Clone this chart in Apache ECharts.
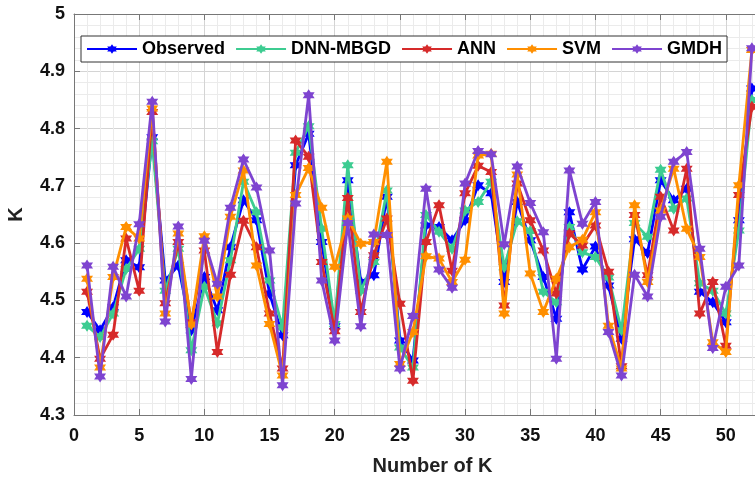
<!DOCTYPE html>
<html>
<head>
<meta charset="utf-8">
<script src="https://cdn.jsdelivr.net/npm/echarts@6/dist/echarts.min.js"></script>
<style>
html,body{margin:0;padding:0;background:#fff;overflow:hidden;}
#chart{width:755px;height:478px;}
</style>
</head>
<body>
<div id="chart"></div>
<script>
var kValues = [1,2,3,4,5,6,7,8,9,10,11,12,13,14,15,16,17,18,19,20,21,22,23,24,25,26,27,28,29,30,31,32,33,34,35,36,37,38,39,40,41,42,43,44,45,46,47,48,49,50,51,52];
var observed = [4.480,4.448,4.488,4.570,4.558,4.785,4.535,4.561,4.448,4.541,4.483,4.593,4.675,4.640,4.512,4.439,4.736,4.791,4.602,4.455,4.710,4.532,4.544,4.681,4.430,4.395,4.631,4.628,4.605,4.640,4.701,4.687,4.532,4.672,4.605,4.541,4.468,4.654,4.554,4.594,4.526,4.433,4.607,4.583,4.710,4.675,4.695,4.515,4.497,4.462,4.640,4.870];
var dnnMbgd = [4.456,4.436,4.477,4.555,4.590,4.778,4.517,4.590,4.413,4.524,4.460,4.570,4.707,4.654,4.535,4.453,4.758,4.804,4.625,4.459,4.736,4.517,4.567,4.692,4.418,4.383,4.649,4.620,4.590,4.657,4.672,4.707,4.558,4.638,4.621,4.515,4.497,4.628,4.584,4.576,4.540,4.448,4.635,4.611,4.728,4.660,4.678,4.530,4.517,4.477,4.622,4.850];
var ann = [4.515,4.398,4.440,4.608,4.517,4.829,4.495,4.602,4.462,4.587,4.410,4.545,4.639,4.593,4.477,4.381,4.779,4.751,4.567,4.446,4.679,4.480,4.579,4.643,4.494,4.360,4.602,4.666,4.552,4.687,4.735,4.724,4.491,4.704,4.640,4.587,4.512,4.617,4.596,4.631,4.550,4.385,4.649,4.544,4.681,4.622,4.730,4.477,4.532,4.421,4.684,4.838];
var svm = [4.538,4.383,4.541,4.628,4.608,4.835,4.477,4.617,4.458,4.612,4.507,4.646,4.727,4.561,4.459,4.369,4.684,4.731,4.662,4.559,4.643,4.599,4.602,4.742,4.389,4.445,4.577,4.573,4.532,4.571,4.753,4.756,4.477,4.720,4.547,4.480,4.538,4.593,4.606,4.654,4.456,4.381,4.666,4.532,4.657,4.730,4.625,4.576,4.427,4.410,4.701,4.937];
var gmdh = [4.561,4.367,4.559,4.507,4.633,4.847,4.463,4.629,4.363,4.604,4.529,4.662,4.746,4.697,4.587,4.352,4.669,4.858,4.535,4.430,4.635,4.455,4.615,4.614,4.381,4.473,4.695,4.554,4.522,4.704,4.761,4.755,4.598,4.734,4.670,4.619,4.398,4.727,4.634,4.672,4.445,4.369,4.545,4.507,4.646,4.742,4.759,4.590,4.417,4.524,4.561,4.940];
var seriesNames = ['Observed','DNN-MBGD','ANN','SVM','GMDH'];
var seriesColors = ['#0000FF','#3DCC91','#D62A2A','#FF8F00','#7E44D0'];
var yTicks = [4.3,4.4,4.5,4.6,4.7,4.8,4.9,5];

var hexagram = 'path://M0,-1000 L289,-500 L866,-500 L577,0 L866,500 L289,500 L0,1000 L-289,500 L-866,500 L-577,0 L-866,-500 L-289,-500 Z';
var FONT = 'Liberation Sans, Arial, sans-serif';
var allData = [observed, dnnMbgd, ann, svm, gmdh];

function pairs(arr){ return arr.map(function(v,i){ return [kValues[i], v]; }); }

var series = allData.map(function(arr, i){
  return {
    name: seriesNames[i],
    type: 'line',
    data: pairs(arr),
    symbol: hexagram,
    symbolSize: 12,
    showSymbol: true,
    clip: false,
    lineStyle: {width: 2.8, color: seriesColors[i]},
    itemStyle: {color: seriesColors[i], borderWidth: 0},
    z: 2 + i
  };
});

var chart = echarts.init(document.getElementById('chart'), null, {renderer: 'canvas'});
chart.setOption({
  animation: false,
  backgroundColor: '#fff',
  grid: {left: 74, top: 14, bottom: 63, width: 717, containLabel: false, outerBoundsMode: 'none'},
  legend: {
    left: 81, top: 36,
    orient: 'horizontal',
    itemWidth: 50, itemHeight: 12, itemGap: 10,
    padding: [4, 5, 4, 5],
    borderColor: '#333', borderWidth: 1,
    backgroundColor: '#fff',
    textStyle: {fontFamily: FONT, fontWeight: 'bold', fontSize: 18, color: '#000'},
    data: seriesNames
  },
  xAxis: [{
    type: 'value', min: 0, max: 55, interval: 5,
    name: 'Number of K', nameLocation: 'middle', nameGap: 41,
    nameTextStyle: {fontFamily: FONT, fontWeight: 'bold', fontSize: 20, color: '#222'},
    axisLine: {show: true, lineStyle: {color: '#777', width: 1}},
    axisTick: {show: true, inside: true, length: 6, lineStyle: {color: '#777'}},
    axisLabel: {fontFamily: FONT, fontWeight: 'bold', fontSize: 18, color: '#111', margin: 12},
    splitLine: {show: true, lineStyle: {color: '#d4d4d4', width: 1}},
    minorTick: {show: false, splitNumber: 5},
    minorSplitLine: {show: true, lineStyle: {color: '#ebebeb', width: 1}}
  },{
    type: 'value', position: 'top', min: 0, max: 55, interval: 5,
    axisLine: {show: true, lineStyle: {color: '#777', width: 1}},
    axisTick: {show: true, inside: true, length: 6, lineStyle: {color: '#777'}},
    axisLabel: {show: false},
    splitLine: {show: false}
  }],
  yAxis: {
    type: 'value', min: 4.3, max: 5, interval: 0.1,
    name: 'K', nameLocation: 'middle', nameGap: 48, nameRotate: 90,
    nameTextStyle: {fontFamily: FONT, fontWeight: 'bold', fontSize: 20, color: '#222'},
    axisLine: {show: true, lineStyle: {color: '#777', width: 1}},
    axisTick: {show: true, inside: true, length: 6, lineStyle: {color: '#777'}},
    axisLabel: {
      fontFamily: FONT, fontWeight: 'bold', fontSize: 18, color: '#111', margin: 9,
      formatter: function(v){ var t = yTicks.find(function(y){ return Math.abs(y - v) < 1e-6; }); return t === undefined ? '' : String(t); }
    },
    splitLine: {show: true, lineStyle: {color: '#d4d4d4', width: 1}},
    minorTick: {show: false, splitNumber: 5},
    minorSplitLine: {show: true, lineStyle: {color: '#ebebeb', width: 1}}
  },
  series: series
});
</script>
</body>
</html>
